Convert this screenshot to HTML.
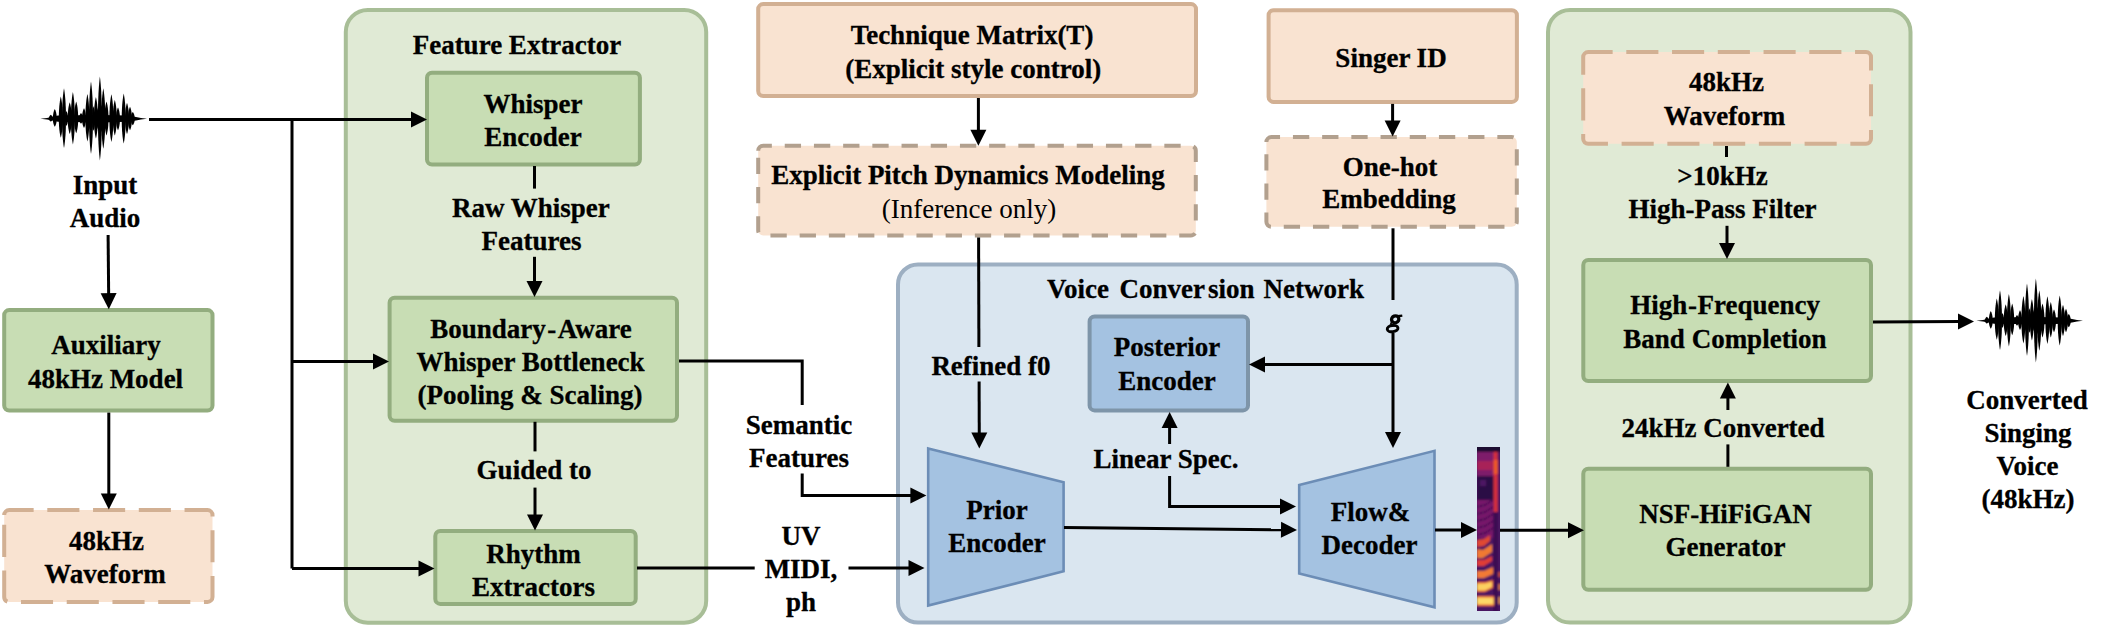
<!DOCTYPE html>
<html><head><meta charset="utf-8"><style>
html,body{margin:0;padding:0;background:#fff;}
svg{display:block;}
text{font-family:"Liberation Serif",serif;fill:#000;}
text[font-weight=bold]{stroke:#000;stroke-width:0.3px;}
</style></head><body>
<svg width="2119" height="636" viewBox="0 0 2119 636">
<rect x="345.8" y="9.9" width="360.4" height="612.8" rx="22" fill="#E0EAD5" stroke="#A8BE97" stroke-width="4"/>
<rect x="898.0" y="264.4" width="618.7" height="358.2" rx="20" fill="#DAE6F0" stroke="#9DAFC2" stroke-width="4"/>
<rect x="1548.0" y="9.9" width="362.5" height="612.7" rx="22" fill="#E0EAD5" stroke="#A8BE97" stroke-width="4"/>
<rect x="4.2" y="310.1" width="208.3" height="100.5" rx="5" fill="#C8DDB4" stroke="#93AD7F" stroke-width="4"/>
<rect x="4.2" y="510.1" width="208.3" height="91.8" rx="5" fill="#F9E3D1"/>
<path d="M4.20,515.10 A5,5 0 0 1 9.20,510.10 H207.50 A5,5 0 0 1 212.50,515.10 V596.90 A5,5 0 0 1 207.50,601.90 H9.20 A5,5 0 0 1 4.20,596.90 Z" fill="none" stroke="#D2B093" stroke-width="4" stroke-dasharray="32.1 13.65"/>
<rect x="427.0" y="72.8" width="212.9" height="91.7" rx="5" fill="#C8DDB4" stroke="#93AD7F" stroke-width="4"/>
<rect x="389.6" y="297.7" width="287.4" height="123.1" rx="5" fill="#C8DDB4" stroke="#93AD7F" stroke-width="4"/>
<rect x="435.3" y="531.0" width="200.4" height="72.9" rx="5" fill="#C8DDB4" stroke="#93AD7F" stroke-width="4"/>
<rect x="758.2" y="4.1" width="437.8" height="91.9" rx="5" fill="#F9E3D1" stroke="#D2B093" stroke-width="4"/>
<rect x="758.2" y="145.7" width="437.6" height="89.8" rx="5" fill="#F9E3D1"/>
<path d="M758.20,150.70 A5,5 0 0 1 763.20,145.70 H1190.80 A5,5 0 0 1 1195.80,150.70 V230.50 A5,5 0 0 1 1190.80,235.50 H763.20 A5,5 0 0 1 758.20,230.50 Z" fill="none" stroke="#B2A08E" stroke-width="4" stroke-dasharray="16.3 12.9"/>
<rect x="1268.6" y="10.2" width="248.3" height="91.7" rx="5" fill="#F9E3D1" stroke="#D2B093" stroke-width="4"/>
<rect x="1266.4" y="137.1" width="250.4" height="89.7" rx="5" fill="#F9E3D1"/>
<path d="M1266.40,142.10 A5,5 0 0 1 1271.40,137.10 H1511.80 A5,5 0 0 1 1516.80,142.10 V221.80 A5,5 0 0 1 1511.80,226.80 H1271.40 A5,5 0 0 1 1266.40,221.80 Z" fill="none" stroke="#B2A08E" stroke-width="4" stroke-dasharray="16.3 12.9"/>
<rect x="1089.6" y="316.5" width="158.4" height="93.9" rx="5" fill="#A4C2E1" stroke="#7E95A9" stroke-width="4"/>
<rect x="1583.2" y="52.1" width="287.8" height="91.7" rx="5" fill="#F9E3D1"/>
<path d="M1583.20,57.10 A5,5 0 0 1 1588.20,52.10 H1866.00 A5,5 0 0 1 1871.00,57.10 V138.80 A5,5 0 0 1 1866.00,143.80 H1588.20 A5,5 0 0 1 1583.20,138.80 Z" fill="none" stroke="#D2B093" stroke-width="4" stroke-dasharray="32.1 13.65"/>
<rect x="1583.3" y="259.9" width="287.7" height="121.1" rx="5" fill="#C8DDB4" stroke="#93AD7F" stroke-width="4"/>
<rect x="1583.3" y="468.8" width="287.7" height="120.9" rx="5" fill="#C8DDB4" stroke="#93AD7F" stroke-width="4"/>
<path d="M928.2,448.5 L1063.6,482.3 L1063.6,571.3 L928.2,605.5 Z" fill="#A4C2E1" stroke="#6C8DB6" stroke-width="2.6"/>
<path d="M1299.2,485 L1434.5,450.8 L1434.5,607.3 L1299.2,573.5 Z" fill="#A4C2E1" stroke="#6C8DB6" stroke-width="2.6"/>
<g transform="translate(0,0)" fill="#000"><path d="M40.4,118.7 L47,117.9 L52,116.8 L58,115.6 L100,115 L128,115.6 L136,117 L141,118 L147,118.7 L141,119.4 L136,120.4 L128,121.8 L100,122.4 L58,121.8 L52,120.6 L47,119.5 Z"/><path d="M48.80,118.7 C48.80,116.56 50.10,115.27 50.80,114.80 C51.50,115.27 52.80,116.56 52.80,118.7 C52.80,120.24 51.50,121.16 50.80,121.50 C50.10,121.16 48.80,120.24 48.80,118.7 Z"/><path d="M52.80,118.7 C52.80,113.31 54.10,110.08 54.80,108.90 C55.50,110.08 56.80,113.31 56.80,118.7 C56.80,123.10 55.50,125.74 54.80,126.70 C54.10,125.74 52.80,123.10 52.80,118.7 Z"/><path d="M58.80,118.7 C58.80,106.44 60.10,99.08 60.80,96.40 C61.50,99.08 62.80,106.44 62.80,118.7 C62.80,129.15 61.50,135.42 60.80,137.70 C60.10,135.42 58.80,129.15 58.80,118.7 Z"/><path d="M62.00,118.7 C62.00,101.92 63.30,91.86 64.00,88.20 C64.70,91.86 66.00,101.92 66.00,118.7 C66.00,134.81 64.70,144.48 64.00,148.00 C63.30,144.48 62.00,134.81 62.00,118.7 Z"/><path d="M67.70,118.7 C67.70,109.68 69.00,104.27 69.70,102.30 C70.40,104.27 71.70,109.68 71.70,118.7 C71.70,127.12 70.40,132.16 69.70,134.00 C69.00,132.16 67.70,127.12 67.70,118.7 Z"/><path d="M70.90,118.7 C70.90,104.02 72.20,95.20 72.90,92.00 C73.60,95.20 74.90,104.02 74.90,118.7 C74.90,132.84 73.60,141.32 72.90,144.40 C72.20,141.32 70.90,132.84 70.90,118.7 Z"/><path d="M74.20,118.7 C74.20,109.24 75.50,103.56 76.20,101.50 C76.90,103.56 78.20,109.24 78.20,118.7 C78.20,126.73 76.90,131.55 76.20,133.30 C75.50,131.55 74.20,126.73 74.20,118.7 Z"/><path d="M79.00,118.7 C79.00,115.56 80.30,113.68 81.00,113.00 C81.70,113.68 83.00,115.56 83.00,118.7 C83.00,121.45 81.70,123.10 81.00,123.70 C80.30,123.10 79.00,121.45 79.00,118.7 Z"/><path d="M82.00,118.7 C82.00,112.92 83.30,109.46 84.00,108.20 C84.70,109.46 86.00,112.92 86.00,118.7 C86.00,123.81 84.70,126.88 84.00,128.00 C83.30,126.88 82.00,123.81 82.00,118.7 Z"/><path d="M85.40,118.7 C85.40,105.11 86.70,96.96 87.40,94.00 C88.10,96.96 89.40,105.11 89.40,118.7 C89.40,131.19 88.10,138.68 87.40,141.40 C86.70,138.68 85.40,131.19 85.40,118.7 Z"/><path d="M89.00,118.7 C89.00,98.30 90.30,86.05 91.00,81.60 C91.70,86.05 93.00,98.30 93.00,118.7 C93.00,138.12 91.70,149.76 91.00,154.00 C90.30,149.76 89.00,138.12 89.00,118.7 Z"/><path d="M93.90,118.7 C93.90,106.77 95.20,99.60 95.90,97.00 C96.60,99.60 97.90,106.77 97.90,118.7 C97.90,129.59 96.60,136.12 95.90,138.50 C95.20,136.12 93.90,129.59 93.90,118.7 Z"/><path d="M97.90,118.7 C97.90,95.44 99.20,81.48 99.90,76.40 C100.60,81.48 101.90,95.44 101.90,118.7 C101.90,141.75 100.60,155.57 99.90,160.60 C99.20,155.57 97.90,141.75 97.90,118.7 Z"/><path d="M101.30,118.7 C101.30,101.92 102.60,91.86 103.30,88.20 C104.00,91.86 105.30,101.92 105.30,118.7 C105.30,135.25 104.00,145.19 103.30,148.80 C102.60,145.19 101.30,135.25 101.30,118.7 Z"/><path d="M104.50,118.7 C104.50,109.24 105.80,103.56 106.50,101.50 C107.20,103.56 108.50,109.24 108.50,118.7 C108.50,127.94 107.20,133.48 106.50,135.50 C105.80,133.48 104.50,127.94 104.50,118.7 Z"/><path d="M109.40,118.7 C109.40,105.22 110.70,97.14 111.40,94.20 C112.10,97.14 113.40,105.22 113.40,118.7 C113.40,131.52 112.10,139.20 111.40,142.00 C110.70,139.20 109.40,131.52 109.40,118.7 Z"/><path d="M112.80,118.7 C112.80,108.42 114.10,102.24 114.80,100.00 C115.50,102.24 116.80,108.42 116.80,118.7 C116.80,127.94 115.50,133.48 114.80,135.50 C114.10,133.48 112.80,127.94 112.80,118.7 Z"/><path d="M116.00,118.7 C116.00,112.54 117.30,108.84 118.00,107.50 C118.70,108.84 120.00,112.54 120.00,118.7 C120.00,125.08 118.70,128.91 118.00,130.30 C117.30,128.91 116.00,125.08 116.00,118.7 Z"/><path d="M121.70,118.7 C121.70,104.78 123.00,96.44 123.70,93.40 C124.40,96.44 125.70,104.78 125.70,118.7 C125.70,132.40 124.40,140.61 123.70,143.60 C123.00,140.61 121.70,132.40 121.70,118.7 Z"/><path d="M125.00,118.7 C125.00,110.06 126.30,104.88 127.00,103.00 C127.70,104.88 129.00,110.06 129.00,118.7 C129.00,127.12 127.70,132.16 127.00,134.00 C126.30,132.16 125.00,127.12 125.00,118.7 Z"/><path d="M128.00,118.7 C128.00,112.10 129.30,108.14 130.00,106.70 C130.70,108.14 132.00,112.10 132.00,118.7 C132.00,125.08 130.70,128.91 130.00,130.30 C129.30,128.91 128.00,125.08 128.00,118.7 Z"/><path d="M130.80,118.7 C130.80,115.02 132.10,112.80 132.80,112.00 C133.50,112.80 134.80,115.02 134.80,118.7 C134.80,122.28 133.50,124.42 132.80,125.20 C132.10,124.42 130.80,122.28 130.80,118.7 Z"/><path d="M87.70,118.7 C87.70,112.81 88.67,109.28 89.20,108.00 C89.73,109.28 90.70,112.81 90.70,118.7 C90.70,124.37 89.73,127.76 89.20,129.00 C88.67,127.76 87.70,124.37 87.70,118.7 Z"/><path d="M92.00,118.7 C92.00,111.72 92.97,107.52 93.50,106.00 C94.03,107.52 95.00,111.72 95.00,118.7 C95.00,125.47 94.03,129.52 93.50,131.00 C92.97,129.52 92.00,125.47 92.00,118.7 Z"/><path d="M96.30,118.7 C96.30,112.81 97.27,109.28 97.80,108.00 C98.33,109.28 99.30,112.81 99.30,118.7 C99.30,124.37 98.33,127.76 97.80,129.00 C97.27,127.76 96.30,124.37 96.30,118.7 Z"/><path d="M100.10,118.7 C100.10,111.17 101.07,106.64 101.60,105.00 C102.12,106.64 103.10,111.17 103.10,118.7 C103.10,126.02 102.12,130.40 101.60,132.00 C101.07,130.40 100.10,126.02 100.10,118.7 Z"/><path d="M103.50,118.7 C103.50,112.81 104.47,109.28 105.00,108.00 C105.53,109.28 106.50,112.81 106.50,118.7 C106.50,124.37 105.53,127.76 105.00,129.00 C104.47,127.76 103.50,124.37 103.50,118.7 Z"/><path d="M65.00,118.7 C65.00,114.47 65.97,111.92 66.50,111.00 C67.03,111.92 68.00,114.47 68.00,118.7 C68.00,122.72 67.03,125.12 66.50,126.00 C65.97,125.12 65.00,122.72 65.00,118.7 Z"/></g>
<g transform="translate(1936,202)" fill="#000"><path d="M40.4,118.7 L47,117.9 L52,116.8 L58,115.6 L100,115 L128,115.6 L136,117 L141,118 L147,118.7 L141,119.4 L136,120.4 L128,121.8 L100,122.4 L58,121.8 L52,120.6 L47,119.5 Z"/><path d="M48.80,118.7 C48.80,116.56 50.10,115.27 50.80,114.80 C51.50,115.27 52.80,116.56 52.80,118.7 C52.80,120.24 51.50,121.16 50.80,121.50 C50.10,121.16 48.80,120.24 48.80,118.7 Z"/><path d="M52.80,118.7 C52.80,113.31 54.10,110.08 54.80,108.90 C55.50,110.08 56.80,113.31 56.80,118.7 C56.80,123.10 55.50,125.74 54.80,126.70 C54.10,125.74 52.80,123.10 52.80,118.7 Z"/><path d="M58.80,118.7 C58.80,106.44 60.10,99.08 60.80,96.40 C61.50,99.08 62.80,106.44 62.80,118.7 C62.80,129.15 61.50,135.42 60.80,137.70 C60.10,135.42 58.80,129.15 58.80,118.7 Z"/><path d="M62.00,118.7 C62.00,101.92 63.30,91.86 64.00,88.20 C64.70,91.86 66.00,101.92 66.00,118.7 C66.00,134.81 64.70,144.48 64.00,148.00 C63.30,144.48 62.00,134.81 62.00,118.7 Z"/><path d="M67.70,118.7 C67.70,109.68 69.00,104.27 69.70,102.30 C70.40,104.27 71.70,109.68 71.70,118.7 C71.70,127.12 70.40,132.16 69.70,134.00 C69.00,132.16 67.70,127.12 67.70,118.7 Z"/><path d="M70.90,118.7 C70.90,104.02 72.20,95.20 72.90,92.00 C73.60,95.20 74.90,104.02 74.90,118.7 C74.90,132.84 73.60,141.32 72.90,144.40 C72.20,141.32 70.90,132.84 70.90,118.7 Z"/><path d="M74.20,118.7 C74.20,109.24 75.50,103.56 76.20,101.50 C76.90,103.56 78.20,109.24 78.20,118.7 C78.20,126.73 76.90,131.55 76.20,133.30 C75.50,131.55 74.20,126.73 74.20,118.7 Z"/><path d="M79.00,118.7 C79.00,115.56 80.30,113.68 81.00,113.00 C81.70,113.68 83.00,115.56 83.00,118.7 C83.00,121.45 81.70,123.10 81.00,123.70 C80.30,123.10 79.00,121.45 79.00,118.7 Z"/><path d="M82.00,118.7 C82.00,112.92 83.30,109.46 84.00,108.20 C84.70,109.46 86.00,112.92 86.00,118.7 C86.00,123.81 84.70,126.88 84.00,128.00 C83.30,126.88 82.00,123.81 82.00,118.7 Z"/><path d="M85.40,118.7 C85.40,105.11 86.70,96.96 87.40,94.00 C88.10,96.96 89.40,105.11 89.40,118.7 C89.40,131.19 88.10,138.68 87.40,141.40 C86.70,138.68 85.40,131.19 85.40,118.7 Z"/><path d="M89.00,118.7 C89.00,98.30 90.30,86.05 91.00,81.60 C91.70,86.05 93.00,98.30 93.00,118.7 C93.00,138.12 91.70,149.76 91.00,154.00 C90.30,149.76 89.00,138.12 89.00,118.7 Z"/><path d="M93.90,118.7 C93.90,106.77 95.20,99.60 95.90,97.00 C96.60,99.60 97.90,106.77 97.90,118.7 C97.90,129.59 96.60,136.12 95.90,138.50 C95.20,136.12 93.90,129.59 93.90,118.7 Z"/><path d="M97.90,118.7 C97.90,95.44 99.20,81.48 99.90,76.40 C100.60,81.48 101.90,95.44 101.90,118.7 C101.90,141.75 100.60,155.57 99.90,160.60 C99.20,155.57 97.90,141.75 97.90,118.7 Z"/><path d="M101.30,118.7 C101.30,101.92 102.60,91.86 103.30,88.20 C104.00,91.86 105.30,101.92 105.30,118.7 C105.30,135.25 104.00,145.19 103.30,148.80 C102.60,145.19 101.30,135.25 101.30,118.7 Z"/><path d="M104.50,118.7 C104.50,109.24 105.80,103.56 106.50,101.50 C107.20,103.56 108.50,109.24 108.50,118.7 C108.50,127.94 107.20,133.48 106.50,135.50 C105.80,133.48 104.50,127.94 104.50,118.7 Z"/><path d="M109.40,118.7 C109.40,105.22 110.70,97.14 111.40,94.20 C112.10,97.14 113.40,105.22 113.40,118.7 C113.40,131.52 112.10,139.20 111.40,142.00 C110.70,139.20 109.40,131.52 109.40,118.7 Z"/><path d="M112.80,118.7 C112.80,108.42 114.10,102.24 114.80,100.00 C115.50,102.24 116.80,108.42 116.80,118.7 C116.80,127.94 115.50,133.48 114.80,135.50 C114.10,133.48 112.80,127.94 112.80,118.7 Z"/><path d="M116.00,118.7 C116.00,112.54 117.30,108.84 118.00,107.50 C118.70,108.84 120.00,112.54 120.00,118.7 C120.00,125.08 118.70,128.91 118.00,130.30 C117.30,128.91 116.00,125.08 116.00,118.7 Z"/><path d="M121.70,118.7 C121.70,104.78 123.00,96.44 123.70,93.40 C124.40,96.44 125.70,104.78 125.70,118.7 C125.70,132.40 124.40,140.61 123.70,143.60 C123.00,140.61 121.70,132.40 121.70,118.7 Z"/><path d="M125.00,118.7 C125.00,110.06 126.30,104.88 127.00,103.00 C127.70,104.88 129.00,110.06 129.00,118.7 C129.00,127.12 127.70,132.16 127.00,134.00 C126.30,132.16 125.00,127.12 125.00,118.7 Z"/><path d="M128.00,118.7 C128.00,112.10 129.30,108.14 130.00,106.70 C130.70,108.14 132.00,112.10 132.00,118.7 C132.00,125.08 130.70,128.91 130.00,130.30 C129.30,128.91 128.00,125.08 128.00,118.7 Z"/><path d="M130.80,118.7 C130.80,115.02 132.10,112.80 132.80,112.00 C133.50,112.80 134.80,115.02 134.80,118.7 C134.80,122.28 133.50,124.42 132.80,125.20 C132.10,124.42 130.80,122.28 130.80,118.7 Z"/><path d="M87.70,118.7 C87.70,112.81 88.67,109.28 89.20,108.00 C89.73,109.28 90.70,112.81 90.70,118.7 C90.70,124.37 89.73,127.76 89.20,129.00 C88.67,127.76 87.70,124.37 87.70,118.7 Z"/><path d="M92.00,118.7 C92.00,111.72 92.97,107.52 93.50,106.00 C94.03,107.52 95.00,111.72 95.00,118.7 C95.00,125.47 94.03,129.52 93.50,131.00 C92.97,129.52 92.00,125.47 92.00,118.7 Z"/><path d="M96.30,118.7 C96.30,112.81 97.27,109.28 97.80,108.00 C98.33,109.28 99.30,112.81 99.30,118.7 C99.30,124.37 98.33,127.76 97.80,129.00 C97.27,127.76 96.30,124.37 96.30,118.7 Z"/><path d="M100.10,118.7 C100.10,111.17 101.07,106.64 101.60,105.00 C102.12,106.64 103.10,111.17 103.10,118.7 C103.10,126.02 102.12,130.40 101.60,132.00 C101.07,130.40 100.10,126.02 100.10,118.7 Z"/><path d="M103.50,118.7 C103.50,112.81 104.47,109.28 105.00,108.00 C105.53,109.28 106.50,112.81 106.50,118.7 C106.50,124.37 105.53,127.76 105.00,129.00 C104.47,127.76 103.50,124.37 103.50,118.7 Z"/><path d="M65.00,118.7 C65.00,114.47 65.97,111.92 66.50,111.00 C67.03,111.92 68.00,114.47 68.00,118.7 C68.00,122.72 67.03,125.12 66.50,126.00 C65.97,125.12 65.00,122.72 65.00,118.7 Z"/></g>
<defs><clipPath id="spc"><rect x="1477" y="447" width="23" height="164"/></clipPath><filter id="spb" x="-20%" y="-5%" width="140%" height="110%"><feGaussianBlur stdDeviation="1"/></filter></defs>
<g clip-path="url(#spc)"><g filter="url(#spb)">
<rect x="1470" y="440" width="40" height="180" fill="#4a1262"/>
<rect x="1470" y="440" width="40" height="12" fill="#1e0a30"/>
<rect x="1477" y="452" width="17" height="24" fill="#7e1a6a"/>
<rect x="1477" y="461" width="16" height="9" fill="#a82058"/>
<rect x="1477" y="476" width="17" height="24" fill="#2c0c44"/>
<rect x="1480" y="480" width="6" height="6" fill="#4e1264"/>
<rect x="1493.6" y="452" width="4" height="60" fill="#d8303c"/>
<rect x="1493.6" y="460" width="4" height="14" fill="#f05a28"/>
<rect x="1493.6" y="512" width="4" height="100" fill="#3a0e50"/>
<rect x="1477" y="500" width="16" height="38" fill="#78186a"/>
<path d="M1477,506 L1485,504 L1493,499 L1493,501 L1485,506 L1477,508 Z" fill="#3a0c50" opacity="0.7"/>
<path d="M1477,513 L1485,511 L1493,506 L1493,508 L1485,513 L1477,515 Z" fill="#3a0c50" opacity="0.7"/>
<path d="M1477,520 L1485,518 L1493,513 L1493,515 L1485,520 L1477,522 Z" fill="#3a0c50" opacity="0.7"/>
<path d="M1477,527 L1485,525 L1493,520 L1493,522 L1485,527 L1477,529 Z" fill="#3a0c50" opacity="0.7"/>
<path d="M1477,534 L1485,532 L1493,527 L1493,529 L1485,534 L1477,536 Z" fill="#3a0c50" opacity="0.7"/>
<path d="M1477,540 L1484,539 L1490,535 L1490,541 L1484,546 L1477,547 Z" fill="#e04830"/>
<path d="M1477,549 L1483,550 L1492,544 L1492,552 L1483,558 L1477,558 Z" fill="#f07a30"/>
<path d="M1477,560 L1484,560 L1492,556 L1492,561 L1484,566 L1477,566 Z" fill="#e03c34"/>
<path d="M1477,571 L1484,571 L1493,567 L1493,574 L1484,578 L1477,578 Z" fill="#f27a34"/>
<path d="M1477,582 L1485,582 L1493,580 L1493,588 L1485,592 L1477,592 Z" fill="#e85830"/>
<path d="M1477,583.5 L1485,583.5 L1492,581.5 L1492,587 L1485,590.5 L1477,590.5 Z" fill="#fcd060"/>
<rect x="1477" y="596" width="17" height="10" fill="#e85a30"/>
<rect x="1477" y="597.5" width="16.5" height="7" fill="#fdd868"/>
<rect x="1498.5" y="572" width="2" height="5" fill="#e05a30"/>
<rect x="1498.5" y="584" width="2" height="6" fill="#f08a40"/>
<rect x="1498.5" y="597" width="2" height="7" fill="#f0a050"/>
</g></g>
<path d="M149,119.6 L413.0,119.6" fill="none" stroke="#000" stroke-width="3" stroke-linejoin="miter"/>
<path d="M427.0,119.6 L411.0,127.6 L411.0,111.6 Z" fill="#000"/>
<path d="M292,120 L292,568.5" fill="none" stroke="#000" stroke-width="3" stroke-linejoin="miter"/>
<path d="M292,361.5 L375.0,361.5" fill="none" stroke="#000" stroke-width="3" stroke-linejoin="miter"/>
<path d="M389.0,361.5 L373.0,369.5 L373.0,353.5 Z" fill="#000"/>
<path d="M292,568.5 L420.5,568.5" fill="none" stroke="#000" stroke-width="3" stroke-linejoin="miter"/>
<path d="M434.5,568.5 L418.5,576.5 L418.5,560.5 Z" fill="#000"/>
<path d="M108.1,235 L108.66793040524458,295.2006229559262" fill="none" stroke="#000" stroke-width="3" stroke-linejoin="miter"/>
<path d="M108.8,309.2 L100.6,293.3 L116.6,293.1 Z" fill="#000"/>
<path d="M108.8,412.6 L108.8,495.5" fill="none" stroke="#000" stroke-width="3" stroke-linejoin="miter"/>
<path d="M108.8,509.5 L100.8,493.5 L116.8,493.5 Z" fill="#000"/>
<path d="M534.5,166 L534.5,188.6" fill="none" stroke="#000" stroke-width="3" stroke-linejoin="miter"/>
<path d="M534.5,256.8 L534.5,283.0" fill="none" stroke="#000" stroke-width="3" stroke-linejoin="miter"/>
<path d="M534.5,297.0 L526.5,281.0 L542.5,281.0 Z" fill="#000"/>
<path d="M535,421.8 L535,451.4" fill="none" stroke="#000" stroke-width="3" stroke-linejoin="miter"/>
<path d="M535,487.6 L535.0,516.5" fill="none" stroke="#000" stroke-width="3" stroke-linejoin="miter"/>
<path d="M535.0,530.5 L527.0,514.5 L543.0,514.5 Z" fill="#000"/>
<path d="M679,361 L802.2,361 L802.2,405" fill="none" stroke="#000" stroke-width="3" stroke-linejoin="miter"/>
<path d="M802.2,473.4 L802.2,495.5 L912.4,495.5" fill="none" stroke="#000" stroke-width="3" stroke-linejoin="miter"/>
<path d="M926.4,495.5 L910.4,503.5 L910.4,487.5 Z" fill="#000"/>
<path d="M637,568 L754.7,568" fill="none" stroke="#000" stroke-width="3" stroke-linejoin="miter"/>
<path d="M848.5,568 L910.5,568.0" fill="none" stroke="#000" stroke-width="3" stroke-linejoin="miter"/>
<path d="M924.5,568.0 L908.5,576.0 L908.5,560.0 Z" fill="#000"/>
<path d="M978.4,98 L978.4,131.7" fill="none" stroke="#000" stroke-width="3" stroke-linejoin="miter"/>
<path d="M978.4,145.7 L970.4,129.7 L986.4,129.7 Z" fill="#000"/>
<path d="M978.6,237.5 L978.9,347" fill="none" stroke="#000" stroke-width="3" stroke-linejoin="miter"/>
<path d="M979.1,381.6 L979.2581466743225,434.50006256088517" fill="none" stroke="#000" stroke-width="3" stroke-linejoin="miter"/>
<path d="M979.3,448.5 L971.3,432.5 L987.3,432.5 Z" fill="#000"/>
<path d="M1392.6,103.9 L1392.6,122.5" fill="none" stroke="#000" stroke-width="3" stroke-linejoin="miter"/>
<path d="M1392.6,136.5 L1384.6,120.5 L1400.6,120.5 Z" fill="#000"/>
<path d="M1393,228.3 L1393,300" fill="none" stroke="#000" stroke-width="3" stroke-linejoin="miter"/>
<path d="M1393,333 L1393.0,434.0" fill="none" stroke="#000" stroke-width="3" stroke-linejoin="miter"/>
<path d="M1393.0,448.0 L1385.0,432.0 L1401.0,432.0 Z" fill="#000"/>
<path d="M1393,364.4 L1263.0,364.4" fill="none" stroke="#000" stroke-width="3" stroke-linejoin="miter"/>
<path d="M1249.0,364.4 L1265.0,356.4 L1265.0,372.4 Z" fill="#000"/>
<path d="M1169.6,444 L1169.6,426.0" fill="none" stroke="#000" stroke-width="3" stroke-linejoin="miter"/>
<path d="M1169.6,412.0 L1177.6,428.0 L1161.6,428.0 Z" fill="#000"/>
<path d="M1169.6,476 L1169.6,506.5 L1282.0,506.5" fill="none" stroke="#000" stroke-width="3" stroke-linejoin="miter"/>
<path d="M1296.0,506.5 L1280.0,514.5 L1280.0,498.5 Z" fill="#000"/>
<path d="M1064,527.5 L1283.000805802701,529.8497940536771" fill="none" stroke="#000" stroke-width="3" stroke-linejoin="miter"/>
<path d="M1297.0,530.0 L1280.9,537.8 L1281.1,521.8 Z" fill="#000"/>
<path d="M1435,530 L1463.0,530.0" fill="none" stroke="#000" stroke-width="3" stroke-linejoin="miter"/>
<path d="M1477.0,530.0 L1461.0,538.0 L1461.0,522.0 Z" fill="#000"/>
<path d="M1500,530.2 L1570.0,530.2" fill="none" stroke="#000" stroke-width="3" stroke-linejoin="miter"/>
<path d="M1584.0,530.2 L1568.0,538.2 L1568.0,522.2 Z" fill="#000"/>
<path d="M1726.5,146 L1726.5,157" fill="none" stroke="#000" stroke-width="3" stroke-linejoin="miter"/>
<path d="M1727,225.8 L1727.0,245.0" fill="none" stroke="#000" stroke-width="3" stroke-linejoin="miter"/>
<path d="M1727.0,259.0 L1719.0,243.0 L1735.0,243.0 Z" fill="#000"/>
<path d="M1727.9,466.8 L1727.9,444.4" fill="none" stroke="#000" stroke-width="3" stroke-linejoin="miter"/>
<path d="M1727.9,410 L1727.9,396.6" fill="none" stroke="#000" stroke-width="3" stroke-linejoin="miter"/>
<path d="M1727.9,382.6 L1735.9,398.6 L1719.9,398.6 Z" fill="#000"/>
<path d="M1873,322 L1960.0001715486555,321.5693060814423" fill="none" stroke="#000" stroke-width="3" stroke-linejoin="miter"/>
<path d="M1974.0,321.5 L1958.0,329.6 L1958.0,313.6 Z" fill="#000"/>
<text x="105" y="193.8" font-size="27" font-weight="bold" font-style="normal" text-anchor="middle">Input</text>
<text x="105" y="226.8" font-size="27" font-weight="bold" font-style="normal" text-anchor="middle">Audio</text>
<text x="106" y="354" font-size="27" font-weight="bold" font-style="normal" text-anchor="middle">Auxiliary</text>
<text x="105.5" y="388" font-size="27" font-weight="bold" font-style="normal" text-anchor="middle">48kHz Model</text>
<text x="106.5" y="549.7" font-size="27" font-weight="bold" font-style="normal" text-anchor="middle">48kHz</text>
<text x="105" y="583.3" font-size="27" font-weight="bold" font-style="normal" text-anchor="middle">Waveform</text>
<text x="517" y="53.7" font-size="27" font-weight="bold" font-style="normal" text-anchor="middle">Feature Extractor</text>
<text x="533" y="113" font-size="27" font-weight="bold" font-style="normal" text-anchor="middle">Whisper</text>
<text x="533" y="146" font-size="27" font-weight="bold" font-style="normal" text-anchor="middle">Encoder</text>
<text x="530.8" y="216.6" font-size="27" font-weight="bold" font-style="normal" text-anchor="middle">Raw Whisper</text>
<text x="531.5" y="249.9" font-size="27" font-weight="bold" font-style="normal" text-anchor="middle">Features</text>
<text x="531" y="337.5" font-size="27" font-weight="bold" font-style="normal" text-anchor="middle">Boundary<tspan dx='1.5'>-</tspan><tspan dx='1.5'>Aware</tspan></text>
<text x="530.5" y="370.8" font-size="27" font-weight="bold" font-style="normal" text-anchor="middle">Whisper Bottleneck</text>
<text x="530" y="403.8" font-size="27" font-weight="bold" font-style="normal" text-anchor="middle">(Pooling &amp; Scaling)</text>
<text x="534" y="479" font-size="27" font-weight="bold" font-style="normal" text-anchor="middle">Guided to</text>
<text x="533.5" y="563" font-size="27" font-weight="bold" font-style="normal" text-anchor="middle">Rhythm</text>
<text x="533.5" y="596" font-size="27" font-weight="bold" font-style="normal" text-anchor="middle">Extractors</text>
<text x="972" y="43.8" font-size="27" font-weight="bold" font-style="normal" text-anchor="middle">Technique Matrix(T)</text>
<text x="973.3" y="77.6" font-size="27" font-weight="bold" font-style="normal" text-anchor="middle">(Explicit style control)</text>
<text x="968" y="184.2" font-size="27" font-weight="bold" font-style="normal" text-anchor="middle">Explicit Pitch Dynamics Modeling</text>
<text x="1391" y="67.2" font-size="27" font-weight="bold" font-style="normal" text-anchor="middle">Singer ID</text>
<text x="1390" y="175.5" font-size="27" font-weight="bold" font-style="normal" text-anchor="middle">One-hot</text>
<text x="1389" y="208.3" font-size="27" font-weight="bold" font-style="normal" text-anchor="middle">Embedding</text>
<text x="991" y="374.5" font-size="27" font-weight="bold" font-style="normal" text-anchor="middle">Refined f0</text>
<text x="1167" y="356.3" font-size="27" font-weight="bold" font-style="normal" text-anchor="middle">Posterior</text>
<text x="1167" y="389.5" font-size="27" font-weight="bold" font-style="normal" text-anchor="middle">Encoder</text>
<text x="1166" y="468.4" font-size="27" font-weight="bold" font-style="normal" text-anchor="middle">Linear Spec.</text>
<text x="997" y="519.2" font-size="27" font-weight="bold" font-style="normal" text-anchor="middle">Prior</text>
<text x="997" y="552" font-size="27" font-weight="bold" font-style="normal" text-anchor="middle">Encoder</text>
<text x="1370.5" y="521" font-size="27" font-weight="bold" font-style="normal" text-anchor="middle">Flow&amp;</text>
<text x="1369.6" y="554" font-size="27" font-weight="bold" font-style="normal" text-anchor="middle">Decoder</text>
<text x="799" y="434.2" font-size="27" font-weight="bold" font-style="normal" text-anchor="middle">Semantic</text>
<text x="799" y="466.9" font-size="27" font-weight="bold" font-style="normal" text-anchor="middle">Features</text>
<text x="801" y="544.8" font-size="27" font-weight="bold" font-style="normal" text-anchor="middle">UV</text>
<text x="801" y="577.8" font-size="27" font-weight="bold" font-style="normal" text-anchor="middle">MIDI,</text>
<text x="801" y="610.5" font-size="27" font-weight="bold" font-style="normal" text-anchor="middle">ph</text>
<text x="1726.5" y="91.3" font-size="27" font-weight="bold" font-style="normal" text-anchor="middle">48kHz</text>
<text x="1724.5" y="124.7" font-size="27" font-weight="bold" font-style="normal" text-anchor="middle">Waveform</text>
<text x="1722.5" y="185.3" font-size="27" font-weight="bold" font-style="normal" text-anchor="middle">&gt;10kHz</text>
<text x="1722.5" y="218.2" font-size="27" font-weight="bold" font-style="normal" text-anchor="middle">High-Pass Filter</text>
<text x="1725.2" y="314" font-size="27" font-weight="bold" font-style="normal" text-anchor="middle">High<tspan dx='0.6'>-</tspan><tspan dx='0.6'>Frequency</tspan></text>
<text x="1725" y="347.5" font-size="27" font-weight="bold" font-style="normal" text-anchor="middle">Band Completion</text>
<text x="1723" y="436.9" font-size="27" font-weight="bold" font-style="normal" text-anchor="middle">24kHz Converted</text>
<text x="1725.5" y="522.8" font-size="27" font-weight="bold" font-style="normal" text-anchor="middle">NSF-HiFiGAN</text>
<text x="1725.5" y="556.3" font-size="27" font-weight="bold" font-style="normal" text-anchor="middle">Generator</text>
<text x="2027" y="408.5" font-size="27" font-weight="bold" font-style="normal" text-anchor="middle">Converted</text>
<text x="2028" y="441.5" font-size="27" font-weight="bold" font-style="normal" text-anchor="middle">Singing</text>
<text x="2027.5" y="474.7" font-size="27" font-weight="bold" font-style="normal" text-anchor="middle">Voice</text>
<text x="2028" y="507.8" font-size="27" font-weight="bold" font-style="normal" text-anchor="middle">(48kHz)</text>
<text x="969" y="217.6" font-size="27" font-weight="normal" font-style="normal" text-anchor="middle">(Inference only)</text>
<text x="1047" y="297.5" font-size="27" font-weight="bold" font-style="normal" text-anchor="start">Voice</text>
<text x="1119.5" y="297.5" font-size="27" font-weight="bold" font-style="normal" text-anchor="start">Conver</text>
<text x="1208" y="297.5" font-size="27" font-weight="bold" font-style="normal" text-anchor="start">sion</text>
<text x="1263.5" y="297.5" font-size="27" font-weight="bold" font-style="normal" text-anchor="start">Network</text>
<g fill="none" stroke="#000"><ellipse cx="1395.2" cy="319.3" rx="3.7" ry="3.4" stroke-width="3.3" transform="rotate(-20 1395.2 319.3)"/><path d="M1397.5,316.3 L1402.3,315.6" stroke-width="2.4"/><path d="M1391.5,322.5 Q1389.8,324.8 1393,325.5 L1396,325.8" stroke-width="1.8"/><ellipse cx="1392.6" cy="328.6" rx="5.4" ry="3.1" stroke-width="2.9" transform="rotate(-8 1392.6 328.6)"/></g>
</svg>
</body></html>
